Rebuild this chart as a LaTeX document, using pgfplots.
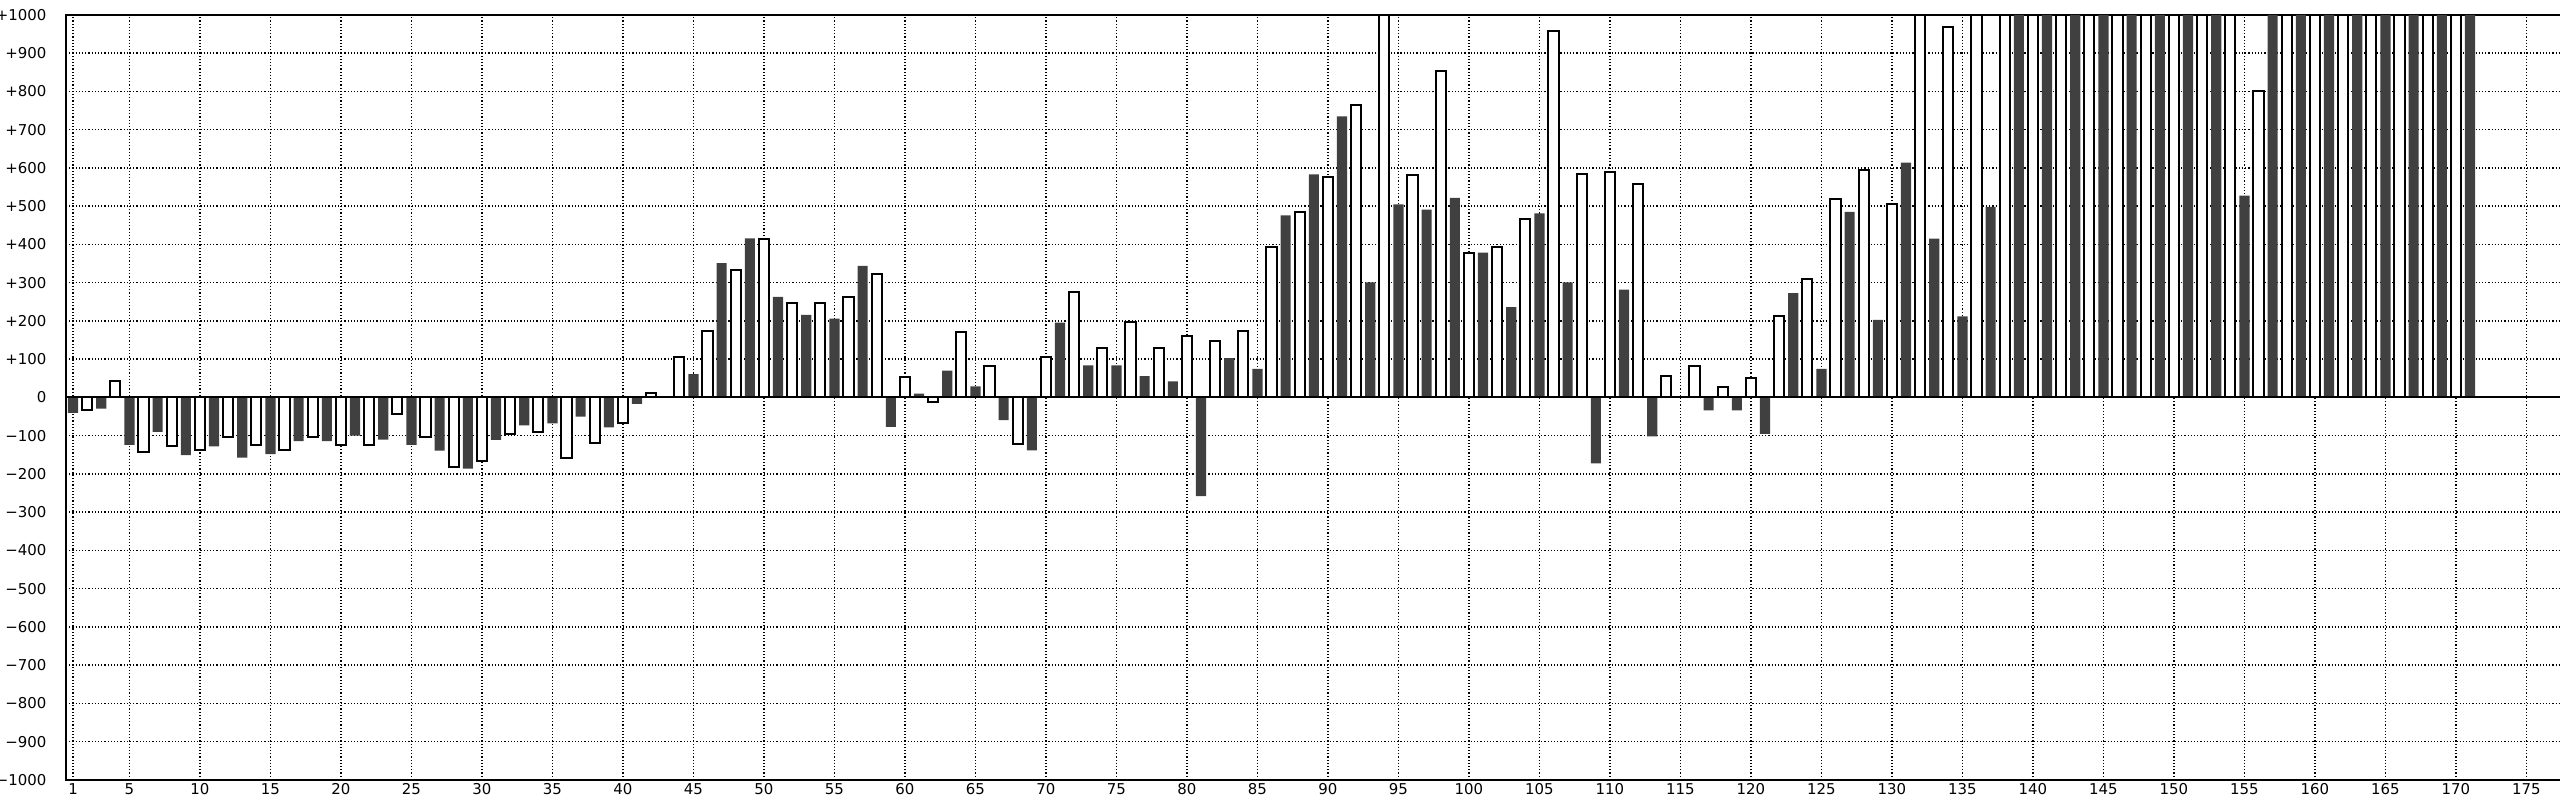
\documentclass[border=0pt]{standalone}
\usepackage{fontspec}
\setmainfont{DejaVu Sans}
\usepackage{pgfplots}
\pgfplotsset{compat=1.18}
\definecolor{darkbar}{RGB}{64,64,64}
\begin{document}
\begin{tikzpicture}
\begin{axis}[
  scale only axis,
  width=249.57mm, height=76.5mm,
  xmin=0.5, xmax=177.5, ymin=-1000, ymax=1000,
  ybar, bar width=0.72, bar shift=0pt,
  xtick={1,5,10,...,175},
  ytick={-1000,-900,...,1000},
  yticklabels={−1000,−900,−800,−700,−600,−500,−400,−300,−200,−100,0,+100,+200,+300,+400,+500,+600,+700,+800,+900,+1000},
  grid=major,
  major grid style={black, line width=0.15mm, dash pattern=on 0.12mm off 0.2mm},
  axis line style={black, line width=0.2mm},
  major tick length=0pt,
  tick style={draw=none},
  ticklabel style={font=\fontsize{4.25pt}{5pt}\selectfont},
  yticklabel style={anchor=east, inner sep=0pt, xshift=-1.9mm},
  xticklabel style={anchor=north, inner sep=0pt, yshift=-0.3mm},
  /pgf/number format/assume math mode=true,
  /pgf/number format/1000 sep={},
  clip=true,
]
% odd positions: dark bars
\addplot[fill=darkbar, draw=none] coordinates {
(1,-40) (3,-29) (5,-124) (7,-90) (9,-151) (11,-128) (13,-157) (15,-148) (17,-114) (19,-114)
(21,-100) (23,-110) (25,-124) (27,-139) (29,-186) (31,-111) (33,-73) (35,-68) (37,-50) (39,-78)
(41,-17) (43,0) (45,61) (47,351) (49,416) (51,263) (53,216) (55,206) (57,344) (59,-77)
(61,10) (63,70) (65,29) (67,-59) (69,-138) (71,196) (73,84) (75,84) (77,56) (79,42)
(81,-258) (83,103) (85,75) (87,476) (89,583) (91,735) (93,301) (95,505) (97,491) (99,522)
(101,379) (103,236) (105,481) (107,301) (109,-172) (111,282) (113,-102) (115,0) (117,-34) (119,-34)
(121,-95) (123,273) (125,75) (127,485) (129,203) (131,614) (133,415) (135,212) (137,498) (139,1000)
(141,1000) (143,1000) (145,1000) (147,1000) (149,1000) (151,1000) (153,1000) (155,528) (157,1000) (159,1000)
(161,1000) (163,1000) (165,1000) (167,1000) (169,1000) (171,1000)
};
% even positions: white bars
\addplot[fill=white, draw=black, line width=0.2mm] coordinates {
(2,-34) (4,43) (6,-142) (8,-127) (10,-137) (12,-104) (14,-123) (16,-137) (18,-104) (20,-123)
(22,-123) (24,-42) (26,-104) (28,-183) (30,-165) (32,-95) (34,-90) (36,-157) (38,-119) (40,-67)
(42,13) (44,107) (46,173) (48,332) (50,415) (52,247) (54,247) (56,263) (58,324) (60,54)
(62,-11) (64,171) (66,82) (68,-122) (70,106) (72,277) (74,129) (76,198) (78,129) (80,161)
(82,148) (84,175) (86,393) (88,484) (90,577) (92,765) (94,1000) (96,581) (98,853) (100,378)
(102,393) (104,466) (106,958) (108,585) (110,590) (112,558) (114,55) (116,82) (118,27) (120,51)
(122,212) (124,309) (126,520) (128,594) (130,507) (132,1000) (134,968) (136,1000) (138,1000) (140,1000)
(142,1000) (144,1000) (146,1000) (148,1000) (150,1000) (152,1000) (154,1000) (156,800) (158,1000) (160,1000)
(162,1000) (164,1000) (166,1000) (168,1000) (170,1000)
};
\draw[black, line width=0.2mm] (axis cs:0.5,0) -- (axis cs:177.5,0);
\end{axis}
\pgfresetboundingbox
\path[use as bounding box] (-6.6mm,-1.8mm) rectangle (249.4mm,78.0mm);
\end{tikzpicture}
\end{document}
